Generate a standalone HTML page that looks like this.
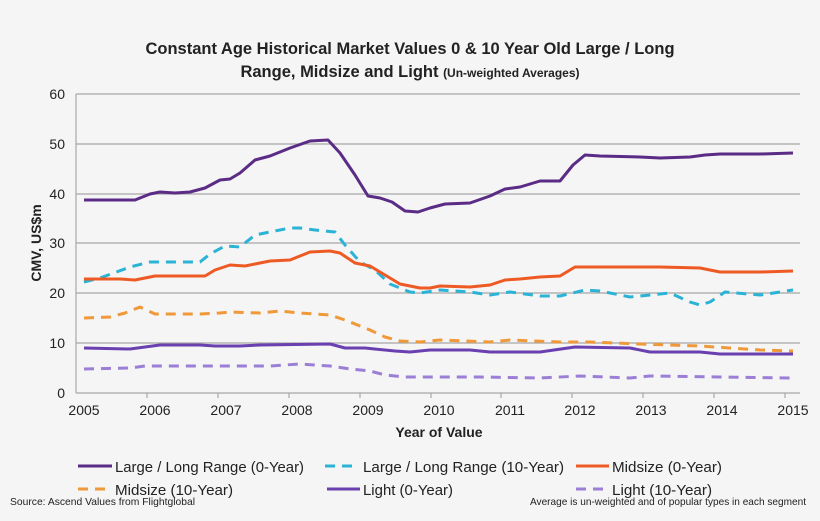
<!DOCTYPE html>
<html><head><style>
body{margin:0;background:#f5f5f5;}
svg{display:block;font-family:"Liberation Sans Narrow","Liberation Sans",sans-serif;}
</style></head><body>
<svg width="820" height="521" viewBox="0 0 820 521">
<rect width="820" height="521" fill="#f5f5f5"/>
<text x="410" y="54" text-anchor="middle" font-family="Liberation Sans, sans-serif" font-weight="bold" font-size="16.5" fill="#222">Constant Age Historical Market Values 0 &amp; 10 Year Old Large / Long</text>
<text x="410" y="77" text-anchor="middle" font-family="Liberation Sans, sans-serif" font-weight="bold" font-size="16.5" fill="#222">Range, Midsize and Light <tspan font-size="12">(Un-weighted Averages)</tspan></text>
<g stroke="#a8a8a8" stroke-width="1.2">
<line x1="76" y1="94" x2="800" y2="94"/><line x1="76" y1="144" x2="800" y2="144"/><line x1="76" y1="194" x2="800" y2="194"/><line x1="76" y1="243" x2="800" y2="243"/><line x1="76" y1="293" x2="800" y2="293"/><line x1="76" y1="343" x2="800" y2="343"/><line x1="76" y1="393" x2="800" y2="393"/>
<line x1="76" y1="94" x2="76" y2="393"/>
<line x1="147" y1="393" x2="147" y2="398"/><line x1="218" y1="393" x2="218" y2="398"/><line x1="289" y1="393" x2="289" y2="398"/><line x1="360" y1="393" x2="360" y2="398"/><line x1="431" y1="393" x2="431" y2="398"/><line x1="501" y1="393" x2="501" y2="398"/><line x1="572" y1="393" x2="572" y2="398"/><line x1="643" y1="393" x2="643" y2="398"/><line x1="714" y1="393" x2="714" y2="398"/><line x1="785" y1="393" x2="785" y2="398"/>
</g>
<g font-family="Liberation Sans, sans-serif" font-size="14" fill="#222" text-anchor="end">
<text x="65" y="99">60</text><text x="65" y="149">50</text><text x="65" y="199">40</text><text x="65" y="248">30</text><text x="65" y="298">20</text><text x="65" y="348">10</text><text x="65" y="398">0</text>
</g>
<g font-family="Liberation Sans, sans-serif" font-size="14" fill="#222" text-anchor="middle">
<text x="84" y="415">2005</text><text x="155" y="415">2006</text><text x="226" y="415">2007</text><text x="297" y="415">2008</text><text x="368" y="415">2009</text><text x="439" y="415">2010</text><text x="510" y="415">2011</text><text x="580" y="415">2012</text><text x="651" y="415">2013</text><text x="722" y="415">2014</text><text x="793" y="415">2015</text>
</g>
<text x="439" y="437" text-anchor="middle" font-family="Liberation Sans, sans-serif" font-weight="bold" font-size="14" fill="#222">Year of Value</text>
<text transform="translate(41,243) rotate(-90)" text-anchor="middle" font-family="Liberation Sans, sans-serif" font-weight="bold" font-size="14" fill="#222">CMV, US$m</text>
<g fill="none" stroke-width="3" stroke-linejoin="round" stroke-linecap="butt">
<polyline stroke="#5b2c86" points="84,200 120,200 135,200 150,194 160,192 175,193 190,192 205,188 220,180 230,179 240,173 255,160 270,156 290,148 310,141 328,140 340,153 355,175 368,196 380,198 392,202 405,211 418,212 430,208 445,204 470,203 490,196 505,189 520,187 540,181 560,181 573,165 585,155 600,156 640,157 660,158 690,157 705,155 720,154 760,154 793,153"/>
<polyline stroke="#2bb3d6" stroke-dasharray="10,7" points="84,282 100,278 130,267 150,262 200,262 210,254 225,246 240,247 255,235 290,228 300,228 315,230 335,232 345,245 360,262 375,270 390,284 410,292 420,293 440,290 470,292 490,295 510,292 540,296 560,296 585,290 600,291 630,297 650,295 670,293 690,302 700,305 710,302 725,292 760,295 793,290"/>
<polyline stroke="#ee5a24" points="84,279 120,279 135,280 155,276 205,276 215,270 230,265 245,266 270,261 290,260 300,256 310,252 330,251 340,253 355,263 370,266 385,275 400,284 420,288 430,288 440,286 470,287 490,285 505,280 520,279 540,277 560,276 575,267 590,267 640,267 660,267 700,268 720,272 760,272 793,271"/>
<polyline stroke="#f0993a" stroke-dasharray="10,7" points="84,318 110,317 125,313 140,307 155,314 200,314 220,313 230,312 260,313 280,311 290,312 300,313 330,315 345,320 370,330 385,337 400,341 420,342 440,340 490,342 510,340 560,342 590,342 640,344 670,345 700,346 760,350 793,351"/>
<polyline stroke="#6a3fb0" points="84,348 130,349 145,347 160,345 200,345 215,346 240,346 260,345 330,344 345,348 365,348 395,351 410,352 430,350 470,350 490,352 540,352 575,347 630,348 650,352 700,352 720,354 793,354"/>
<polyline stroke="#9b7fd6" stroke-dasharray="10,7" points="84,369 130,368 145,366 160,366 270,366 300,364 330,366 350,369 370,371 385,375 405,377 430,377 480,377 540,378 580,376 630,378 650,376 720,377 793,378"/>
</g>
<g stroke-width="3">
<line x1="78" y1="466" x2="112" y2="466" stroke="#5b2c86"/>
<line x1="325" y1="466" x2="359" y2="466" stroke="#2bb3d6" stroke-dasharray="10,7"/>
<line x1="576" y1="466" x2="609" y2="466" stroke="#ee5a24"/>
<line x1="78" y1="489" x2="112" y2="489" stroke="#f0993a" stroke-dasharray="10,7"/>
<line x1="327" y1="489" x2="360" y2="489" stroke="#6a3fb0"/>
<line x1="576" y1="489" x2="609" y2="489" stroke="#9b7fd6" stroke-dasharray="10,7"/>
</g>
<g font-size="15" fill="#222">
<text x="115" y="472" textLength="189" lengthAdjust="spacingAndGlyphs">Large / Long Range (0-Year)</text>
<text x="363" y="472" textLength="201" lengthAdjust="spacingAndGlyphs">Large / Long Range (10-Year)</text>
<text x="612" y="472" textLength="110" lengthAdjust="spacingAndGlyphs">Midsize (0-Year)</text>
<text x="115" y="495" textLength="118" lengthAdjust="spacingAndGlyphs">Midsize (10-Year)</text>
<text x="363" y="495" textLength="90" lengthAdjust="spacingAndGlyphs">Light (0-Year)</text>
<text x="612" y="495" textLength="100" lengthAdjust="spacingAndGlyphs">Light (10-Year)</text>
</g>
<g font-size="10.5" fill="#222">
<text x="10" y="505" textLength="185" lengthAdjust="spacingAndGlyphs">Source:  Ascend Values from Flightglobal</text>
<text x="530" y="505" textLength="276" lengthAdjust="spacingAndGlyphs">Average is un-weighted and of popular types in each segment</text>
</g>
</svg>
</body></html>
